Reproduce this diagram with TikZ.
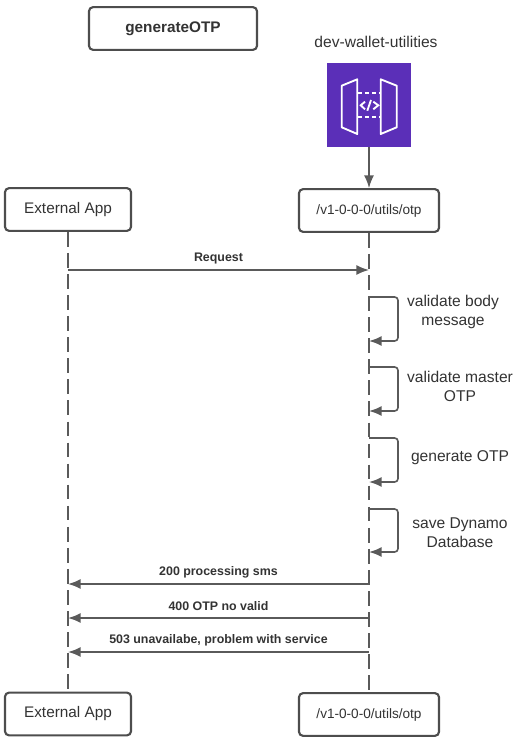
\documentclass[tikz,border=0pt]{standalone}
\usepackage{fontspec}
\setmainfont{Liberation Sans}
\usetikzlibrary{arrows.meta}
\definecolor{linegray}{HTML}{5A5A5A}
\definecolor{boxgray}{HTML}{4D4D4D}
\definecolor{textgray}{HTML}{333333}
\definecolor{apipurple}{HTML}{5B2FB8}
\tikzset{
	actorbox/.style={draw=boxgray, line width=1.6pt, rounded corners=3pt, fill=white, text=textgray, font=\fontsize{11.5}{14}\selectfont, minimum height=32pt, inner sep=0pt},
	msglabel/.style={text=textgray, font=\bfseries\fontsize{9.3}{11}\selectfont, inner sep=0pt},
	looplabel/.style={text=textgray, font=\fontsize{11.7}{14.25}\selectfont, align=center, inner sep=0pt},
	lifeline/.style={linegray, line width=1.2pt, dash pattern=on 11pt off 4.8pt},
	msgarrow/.style={-{Latex[length=9.5pt,width=7.5pt]}, linegray, line width=1.2pt},
	iconline/.style={white, line width=1.4pt}
}
\begin{document}
\begin{tikzpicture}[x=0.75pt, y=-0.75pt]
		\useasboundingbox (0,0) rectangle (523,742);
		
		% Title
		\node[actorbox, minimum width=126pt, font=\bfseries\fontsize{11.5}{14}\selectfont] (title) at (173,28.5) {\raisebox{-1pt}{generateOTP}};
		\node[looplabel] (service) at (376,42) {dev-wallet-utilities};
		
		% API icon
		\node[fill=apipurple, minimum size=63pt, inner sep=0pt] (icon) at (369,105) {};
		\draw[iconline, line join=round] (357.3,79.3) -- (341.7,85.7) -- (341.7,127.3) -- (357.3,134) -- cycle;
		\draw[iconline, line join=round] (380.7,79.3) -- (396.7,85.7) -- (396.7,127.3) -- (380.7,134) -- cycle;
		\foreach \y in {92.7,117.3}
		\draw[iconline, dash pattern=on 3pt off 2.2pt] (358,\y) -- (380,\y);
		\draw[iconline] (365,101.7) -- (360.7,105.3) -- (365,109.3);
		\draw[iconline] (371,100) -- (367.3,110.7);
		\draw[iconline] (373.3,101.7) -- (378.3,105.3) -- (373.3,109.3);
		
		% Lifeline heads and feet
		\node[actorbox, minimum width=94.5pt] (apptop) at (68,209.5) {\raisebox{-0.8pt}{External App}};
		\node[actorbox, minimum width=105pt, font=\fontsize{10.2}{12}\selectfont] (otptop) at (369,210.5) {/v1-0-0-0/utils/otp};
		\node[actorbox, minimum width=94.5pt] (appbot) at (68,714) {\raisebox{-0.8pt}{External App}};
		\node[actorbox, minimum width=105pt, font=\fontsize{10.2}{12}\selectfont] (otpbot) at (369,714.5) {/v1-0-0-0/utils/otp};
		
		% Lifelines
		\draw[lifeline] (apptop) -- (appbot);
		\draw[lifeline] (otptop) -- (otpbot);
		\draw[msgarrow] (icon) -- (otptop);
		
		% Messages
		\coordinate (appreq) at (68,270);
		\coordinate (otpreq) at (369,270);
		\draw[msgarrow] (appreq) -- (otpreq);
		\node[msglabel] (request) at (218.5,259) {Request};
		
		\foreach \y/\txt/\name in {584/200 processing sms/ok,618/400 OTP no valid/invalid,652/{503 unavailabe, problem with service}/down}{
			\coordinate (otp\name) at (369,\y);
			\coordinate (app\name) at (68,\y);
			\draw[msgarrow] (otp\name) -- (app\name);
			\node[msglabel] (label\name) at (218.5,\y-11.5) {\txt};
		}
		
		% Self calls
		\foreach \ya/\yb/\name in {297/341/body,367/411/master,438/482/gen,509/552/save}{
			\coordinate (\name from) at (369,\ya);
			\coordinate (\name to) at (369,\yb);
			\draw[msgarrow, rounded corners=2.5pt] (\name from) -- (398,\ya) -- (398,\yb) -- (\name to);
		}
		\node[looplabel] (bodytext) at (453,311.5) {validate body\\message};
		\node[looplabel] (mastertext) at (460,386.5) {validate master\\OTP};
		\node[looplabel] (gentext) at (460,458) {generate OTP};
		\node[looplabel] (savetext) at (460,532.5) {save Dynamo\\Database};
		
	\end{tikzpicture}
\end{document}
